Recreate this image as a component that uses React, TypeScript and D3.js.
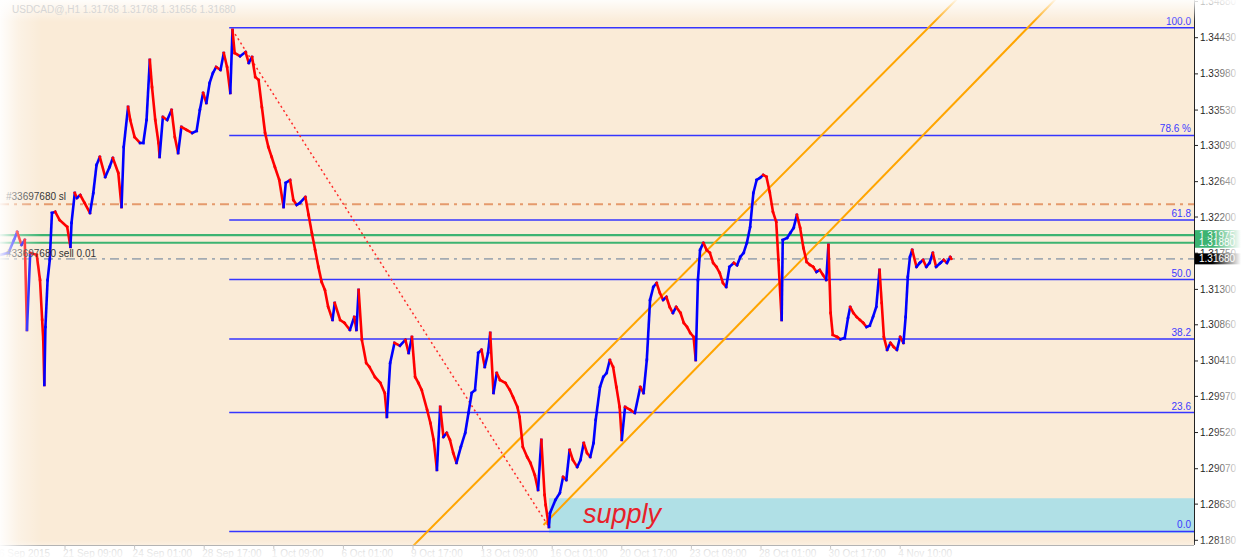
import React from "react";
import * as d3 from "d3";

// ---------- data ----------
const barIndex = [
  -60, -52, -47, -44, -40, -37, -35, -32, -26, -23, -21, -20, -19, -18, -16, -14, -12, -9, -5, 2,
  5, 6, 9, 11, 14, 18, 23, 26, 29, 32, 37, 41, 44, 49, 52, 54, 58, 60, 64, 69,
  72, 75, 78, 80, 83, 86, 87, 90, 94, 98, 101, 104, 107, 112, 117, 121, 124, 127, 130, 133,
  136, 139, 143, 146, 149, 152, 154, 156, 161, 166, 169, 172, 175, 178, 181, 184, 187, 190, 193, 197,
  201, 203, 207, 210, 213, 216, 221, 224, 227, 230, 233, 236, 239, 242, 246, 248, 253, 257, 262, 266,
  268, 270, 273, 277, 280, 285, 290, 294, 296, 299, 303, 308, 313, 316, 319, 322, 325, 328, 333, 336,
  339, 342, 345, 348, 351, 354, 357, 360, 364, 368, 371, 374, 377, 380, 383, 386, 389, 391, 394, 397,
  400, 405, 409, 412, 416, 418, 421, 425, 428, 432, 435, 438, 441, 442, 445, 446, 451, 455, 458, 461,
  464, 467, 471, 474, 477, 480, 483, 486, 488, 492, 495, 498, 501, 504, 507, 510, 512, 515, 520, 524,
  529, 532, 535, 538, 541, 544, 547, 550, 553, 556, 559, 562, 566, 569, 572, 575, 578, 580, 582, 584,
  587, 590, 593, 596, 599, 602, 605, 608, 611, 615, 618, 621, 624, 627, 630, 633, 636, 639, 642, 645,
  648, 651, 654, 656, 659, 660, 664, 667, 670, 673, 676, 679, 682, 685, 688, 691, 694, 697, 700, 702,
  704, 706, 710, 713, 717, 720, 722, 725, 728, 731, 734, 737, 740, 743, 746, 749, 751, 753, 756, 759,
  762, 765, 768, 771, 773, 775, 777, 779, 783, 786, 789, 792, 795, 798, 801, 805, 808, 811, 814, 815,
];

const closes = [
  1.31729, 1.31754, 1.31915, 1.32015, 1.31853, 1.31915, 1.30796, 1.31754, 1.31729, 1.31417,
  1.30920, 1.30672, 1.30112, 1.30833, 1.31417, 1.31667, 1.32251, 1.32264, 1.32164, 1.32077,
  1.31829, 1.32127, 1.32499, 1.32437, 1.32474, 1.32375, 1.32251, 1.32499, 1.32847, 1.32947,
  1.32698, 1.32822, 1.32934, 1.32748, 1.32325, 1.33071, 1.33569, 1.33407, 1.33195, 1.33121,
  1.33121, 1.33407, 1.34153, 1.33817, 1.33407, 1.33121, 1.32947, 1.33444, 1.33407, 1.33531,
  1.33195, 1.32996, 1.33320, 1.33282, 1.33245, 1.33270, 1.33531, 1.33743, 1.33618, 1.33867,
  1.33991, 1.34066, 1.34029, 1.34240, 1.34066, 1.33743, 1.34526, 1.34240, 1.34200, 1.34252,
  1.34116, 1.34190, 1.33942, 1.33904, 1.33569, 1.33245, 1.33071, 1.32947, 1.32822, 1.32661,
  1.32325, 1.32624, 1.32661, 1.32412, 1.32350, 1.32375, 1.32449, 1.32226, 1.32003, 1.31791,
  1.31580, 1.31392, 1.31293, 1.31082, 1.30920, 1.31131, 1.30920, 1.30883, 1.30796, 1.30957,
  1.30796, 1.31293, 1.30672, 1.30385, 1.30335, 1.30211, 1.30136, 1.30012, 1.29714, 1.30385,
  1.30635, 1.30600, 1.30672, 1.30510, 1.30709, 1.30211, 1.30136, 1.30049, 1.29801, 1.29639,
  1.29428, 1.29055, 1.29838, 1.29465, 1.29515, 1.29428, 1.29266, 1.29142, 1.29341, 1.29515,
  1.29763, 1.30012, 1.30049, 1.30510, 1.30548, 1.30335, 1.30510, 1.30758, 1.30012, 1.30261,
  1.30174, 1.30136, 1.30049, 1.29962, 1.29838, 1.29714, 1.29341, 1.29216, 1.29142, 1.28992,
  1.28806, 1.29428, 1.28744, 1.28619, 1.28346, 1.28520, 1.28682, 1.28769, 1.28968, 1.28930,
  1.29303, 1.29179, 1.29092, 1.29179, 1.29390, 1.29266, 1.29216, 1.29390, 1.29676, 1.30087,
  1.30211, 1.30261, 1.30422, 1.30335, 1.30087, 1.29838, 1.29428, 1.29838, 1.29800, 1.29763,
  1.30087, 1.30012, 1.30422, 1.31169, 1.31330, 1.31380, 1.31256, 1.31169, 1.31206, 1.31082,
  1.31007, 1.31082, 1.31007, 1.30883, 1.30833, 1.30758, 1.30709, 1.30422, 1.31417, 1.31791,
  1.31878, 1.31791, 1.31754, 1.31630, 1.31580, 1.31505, 1.31380, 1.31330, 1.31580, 1.31630,
  1.31600, 1.31704, 1.31754, 1.31878, 1.32077, 1.32499, 1.32661, 1.32686, 1.32723, 1.32700,
  1.32512, 1.32264, 1.32139, 1.31667, 1.30920, 1.31915, 1.31940, 1.32003, 1.32065, 1.32226,
  1.32065, 1.31816, 1.31642, 1.31605, 1.31580, 1.31517, 1.31542, 1.31480, 1.31417, 1.31853,
  1.31007, 1.30734, 1.30709, 1.30680, 1.30697, 1.30945, 1.31082, 1.31007, 1.30957, 1.30920,
  1.30883, 1.30833, 1.30850, 1.30957, 1.31082, 1.31542, 1.31131, 1.30709, 1.30548, 1.30635,
  1.30585, 1.30548, 1.30709, 1.30635, 1.30957, 1.31455, 1.31704, 1.31791, 1.31580, 1.31630,
  1.31667, 1.31580, 1.31630, 1.31754, 1.31580, 1.31630, 1.31667, 1.31630, 1.31704, 1.31680,
];

const timeTickBars = [-64, 0, 64, 128, 192, 256, 320, 384, 448, 512, 576, 640, 704, 768];
const timeTickLabels = [
  "16 Sep 2015", "21 Sep 09:00", "24 Sep 01:00", "28 Sep 17:00", "1 Oct 09:00", "6 Oct 01:00",
  "9 Oct 17:00", "13 Oct 09:00", "16 Oct 01:00", "20 Oct 17:00", "23 Oct 09:00", "28 Oct 01:00",
  "30 Oct 17:00", "4 Nov 10:00",
];
const priceTicks = [
  1.3488, 1.3443, 1.3398, 1.3353, 1.3309, 1.3264, 1.322, 1.3175, 1.313, 1.3086, 1.3041,
  1.2997, 1.2952, 1.2907, 1.2863, 1.2818,
];

const fibLevels = [0, 23.6, 38.2, 50, 61.8, 78.6, 100];
const fibLabels = ["0.0", "23.6", "38.2", "50.0", "61.8", "78.6 %", "100.0"];
const fibLowHigh = [1.2829, 1.34555];
const fibStartBar = 151;

const channelUpperBars = [321, 812];
const channelUpperPrices = [1.28122, 1.348];
const channelLowerBars = [440, 903];
const channelLowerPrices = [1.28371, 1.348];
const swingBars = [154, 445];
const swingPrices = [1.34526, 1.28346];
const supplyStartBar = 445;
const supplyPrices = [1.28703, 1.2827];

const slPrice = 1.32358;
const greenPrices = [1.31975, 1.3188];
const bidPrice = 1.3168;
const headerText = "USDCAD@,H1  1.31768 1.31768 1.31656 1.31680";
const slLabel = "#33697680 sl";
const sellLabel = "#33697680 sell 0.01";

// ---------- layout ----------
const W = 1241;
const H = 558;
const PR = 1194; // plot right (price axis)
const PB = 545; // plot bottom (time axis)
const FONT = "'Liberation Sans', Arial, sans-serif";

const x = d3.scaleLinear().domain([0, 64]).range([65, 134.6]);
const y = d3.scaleLinear().domain([1.2818, 1.3443]).range([540.3, 37.7]);

function rayPath(bars: number[], prices: number[], fromBar: number, toBar: number) {
  const slope = (prices[1] - prices[0]) / (bars[1] - bars[0]);
  const p = (b: number) => prices[0] + (b - bars[0]) * slope;
  return d3.line()([
    [x(fromBar), y(p(fromBar))],
    [x(toBar), y(p(toBar))],
  ]) as string;
}

export default function App() {
  const fmt = d3.format(".5f");
  const fibPrice = (lvl: number) => fibLowHigh[0] + (lvl / 100) * (fibLowHigh[1] - fibLowHigh[0]);
  const segs = closes.slice(1).map((c, k) => ({
    x1: x(barIndex[k]),
    y1: y(closes[k]),
    x2: x(barIndex[k + 1]),
    y2: y(c),
    up: c >= closes[k],
  }));

  return (
    <svg
      width={W}
      height={H}
      style={{ position: "absolute", left: 0, top: 0, display: "block", background: "#ffffff" }}
      fontFamily={FONT}
    >
      <defs>
        <clipPath id="plot">
          <rect x={0} y={0} width={PR} height={PB} />
        </clipPath>
        <linearGradient id="fadeL" x1="0" x2="1" y1="0" y2="0">
          <stop offset="0" stopColor="#fff" stopOpacity={0.92} />
          <stop offset="0.45" stopColor="#fff" stopOpacity={0.35} />
          <stop offset="1" stopColor="#fff" stopOpacity={0} />
        </linearGradient>
        <linearGradient id="fadeT" x1="0" x2="0" y1="0" y2="1">
          <stop offset="0" stopColor="#fff" stopOpacity={0.9} />
          <stop offset="1" stopColor="#fff" stopOpacity={0} />
        </linearGradient>
        <linearGradient id="fadeR" x1="0" x2="1" y1="0" y2="0">
          <stop offset="0" stopColor="#fff" stopOpacity={0} />
          <stop offset="1" stopColor="#fff" stopOpacity={1} />
        </linearGradient>
        <linearGradient id="fadeB" x1="0" x2="0" y1="0" y2="1">
          <stop offset="0" stopColor="#fff" stopOpacity={0} />
          <stop offset="1" stopColor="#fff" stopOpacity={0.85} />
        </linearGradient>
      </defs>

      {/* chart background */}
      <rect x={0} y={0} width={PR} height={PB} fill="#FAEBD7" />

      <g clipPath="url(#plot)">
        {/* supply zone */}
        <rect
          x={x(supplyStartBar)}
          y={y(supplyPrices[0])}
          width={PR - x(supplyStartBar)}
          height={y(supplyPrices[1]) - y(supplyPrices[0])}
          fill="#B0E0E6"
        />
        {/* fibonacci levels */}
        {fibLevels.map((lvl) => (
          <line
            key={"f" + lvl}
            x1={x(fibStartBar)}
            x2={PR}
            y1={y(fibPrice(lvl))}
            y2={y(fibPrice(lvl))}
            stroke="#3535ff"
            strokeWidth={1.5}
          />
        ))}
        {/* order lines */}
        <line x1={0} x2={PR} y1={y(slPrice)} y2={y(slPrice)} stroke="#E59A6C" strokeWidth={2} strokeDasharray="9,5,3,5" />
        {greenPrices.map((p) => (
          <line key={"g" + p} x1={0} x2={PR} y1={y(p)} y2={y(p)} stroke="#3CB371" strokeWidth={2.2} />
        ))}
        <line x1={0} x2={PR} y1={y(bidPrice)} y2={y(bidPrice)} stroke="#A3ABB3" strokeWidth={1.6} strokeDasharray="9,5,3,5" />

        {/* channel */}
        <path d={rayPath(channelUpperBars, channelUpperPrices, 300, 900)} stroke="#FFA500" strokeWidth={2} fill="none" />
        <path d={rayPath(channelLowerBars, channelLowerPrices, channelLowerBars[0], 1000)} stroke="#FFA500" strokeWidth={2} fill="none" />

        {/* swing trend line */}
        <path
          d={rayPath(swingBars, swingPrices, swingBars[0], swingBars[1])}
          stroke="#FF2A2A"
          strokeWidth={1.5}
          strokeDasharray="2,3"
          fill="none"
        />

        {/* price series */}
        {segs.map((s, k) => (
          <line
            key={"s" + k}
            x1={s.x1}
            y1={s.y1}
            x2={s.x2}
            y2={s.y2}
            stroke={s.up ? "#0000FF" : "#FF0000"}
            strokeWidth={2.6}
            strokeLinecap="square"
          />
        ))}

        {/* supply label */}
        <text x={583} y={y(supplyPrices[1]) - 10} fontSize={27} fontStyle="italic" fill="#E8202A">
          supply
        </text>

        {/* fib labels */}
        {fibLevels.map((lvl, k) => (
          <text
            key={"fl" + lvl}
            x={PR - 3}
            y={y(fibPrice(lvl)) - 3}
            textAnchor="end"
            fontSize={10}
            fill="#3a3aff"
          >
            {fibLabels[k]}
          </text>
        ))}

        {/* order labels */}
        <text x={6} y={y(slPrice) - 4} fontSize={10} fill="#333">
          {slLabel}
        </text>
        <text x={6} y={y(bidPrice) - 2} fontSize={10} fill="#333">
          {sellLabel}
        </text>
      </g>

      {/* axes */}
      <line x1={PR + 0.5} x2={PR + 0.5} y1={0} y2={PB} stroke="#222" strokeWidth={1} />
      <line x1={0} x2={PR} y1={PB + 0.5} y2={PB + 0.5} stroke="#999" strokeWidth={1} />
      {priceTicks.map((p) => (
        <g key={"pt" + p}>
          <line x1={PR} x2={PR + 4} y1={y(p)} y2={y(p)} stroke="#222" />
          <text x={PR + 6} y={y(p) + 3.5} fontSize={10} fill="#222">
            {fmt(p)}
          </text>
        </g>
      ))}
      {timeTickBars.map((b, k) => (
        <g key={"tt" + b}>
          <line x1={x(b)} x2={x(b)} y1={PB} y2={PB + 4} stroke="#aaa" />
          <text x={x(b) - 2} y={557} fontSize={10} fill="#c2c2c2">
            {timeTickLabels[k]}
          </text>
        </g>
      ))}

      {/* axis price markers */}
      {greenPrices.map((p) => (
        <g key={"gl" + p}>
          <rect x={PR + 1} y={y(p) - 5} width={W - PR} height={10} fill="#3CB371" />
          <text x={PR + 5} y={y(p) + 3.5} fontSize={10} fill="#fff">
            {fmt(p)}
          </text>
        </g>
      ))}
      <rect x={PR + 1} y={y(bidPrice) - 5.5} width={W - PR} height={11} fill="#000" />
      <text x={PR + 5} y={y(bidPrice) + 3.5} fontSize={10} fill="#fff">
        {fmt(bidPrice)}
      </text>

      {/* vignette */}
      <rect x={0} y={0} width={42} height={H} fill="url(#fadeL)" />
      <rect x={0} y={0} width={W} height={22} fill="url(#fadeT)" />
      <rect x={1212} y={0} width={W - 1212} height={H} fill="url(#fadeR)" />
      <rect x={0} y={540} width={W} height={H - 540} fill="url(#fadeB)" />

      <text x={12} y={13} fontSize={10} fill="#d6d6d6">
        {headerText}
      </text>
    </svg>
  );
}
